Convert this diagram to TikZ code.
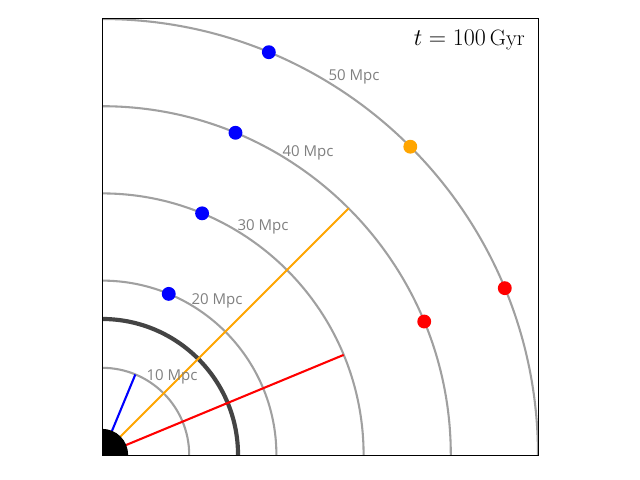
\documentclass[tikz,border=0pt]{standalone}
\usepackage{fontspec}
\newfontfamily\labfont{Open Sans}
\definecolor{gridc}{HTML}{A0A0A0}
\definecolor{thickc}{HTML}{444444}
\definecolor{labc}{HTML}{808080}
\definecolor{mplorange}{HTML}{FFA500}
\begin{document}
\begin{tikzpicture}[x=0.72pt,y=-0.72pt,
  ring/.style={draw=gridc, line width=1.5pt},
  lab/.style={text=labc, font=\labfont\fontsize{10.8}{13}\selectfont, inner sep=0pt},
  dot/.style={circle, inner sep=0pt, minimum size=10pt}]
\useasboundingbox (0,0) rectangle (640,480);
\begin{scope}[shift={(102,455)}, x=6.2784pt, y=6.2784pt]
  \coordinate (O) at (0,0);
  \begin{scope}
    \clip (0,0) rectangle (50,50);
    \foreach \r in {10,20,30,40,50} {\draw[ring] (O) circle (\r);}
    \draw[thickc, line width=3pt] (O) circle (15.6);
    \coordinate (B) at (67.5:10);
    \coordinate (Or) at (45:40);
    \coordinate (R) at (22.5:30);
    \draw[blue, line width=1.5pt] (O) -- (B);
    \draw[mplorange, line width=1.5pt] (O) -- (Or);
    \draw[red, line width=1.5pt] (O) -- (R);
    \fill[black] (O) circle (3);
  \end{scope}
  \node[dot, fill=blue] (b20) at (67.5:20) {};
  \node[dot, fill=blue] (b30) at (67.5:30) {};
  \node[dot, fill=blue] (b40) at (67.5:40) {};
  \node[dot, fill=blue] (b50) at (67.5:50) {};
  \node[dot, fill=mplorange] (o50) at (45:50) {};
  \node[dot, fill=red] (r40) at (22.5:40) {};
  \node[dot, fill=red] (r50) at (22.5:50) {};
\end{scope}
\node[lab] (l10) at (172,376.5) {10 Mpc};
\node[lab] (l20) at (217,300.5) {20 Mpc};
\node[lab] (l30) at (263,226.5) {30 Mpc};
\node[lab] (l40) at (308,152.5) {40 Mpc};
\node[lab] (l50) at (354,76.5) {50 Mpc};
\draw[black, line width=0.7pt] (102,18) rectangle (538,455);
\node[font=\fontsize{16}{18}\selectfont, inner sep=0pt, anchor=base east] (title) at (525,45) {$t = 100\,\mathrm{Gyr}$};
\end{tikzpicture}
\end{document}
